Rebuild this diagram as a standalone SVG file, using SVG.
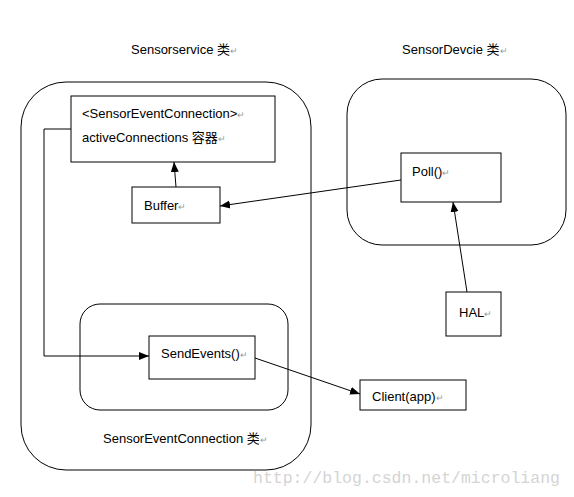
<svg xmlns="http://www.w3.org/2000/svg" width="574" height="497" viewBox="0 0 574 497">
<style>
text{font-family:"Liberation Sans","Noto Sans CJK SC",sans-serif;font-size:13px;fill:#000}
.r{fill:#999;font-size:9px}
.box{fill:#fff;stroke:#000;stroke-width:1}
.grp{fill:#fff;stroke:#000;stroke-width:1}
.c{fill:none;stroke:#000;stroke-width:1}
.wm{font-family:"Liberation Mono",monospace;font-size:16.5px;fill:#d4d4d4}
</style>
<defs>
<marker id="ah" viewBox="0 0 10 10" refX="10" refY="5" markerWidth="10" markerHeight="10" markerUnits="userSpaceOnUse" orient="auto">
<path d="M0,1 L10,5 L0,9 z" fill="#000"/>
</marker>
</defs>
<rect width="574" height="497" fill="#fff"/>
<g id="sensorservice">
<rect class="grp" x="21" y="82" width="290" height="388" rx="45" ry="45"/>
<text x="131" y="54">Sensorservice 类<tspan class="r">↵</tspan></text>
</g>
<g id="sensordevice">
<rect class="grp" x="347" y="79" width="219" height="166" rx="35" ry="35"/>
<text x="402" y="54">SensorDevcie 类<tspan class="r">↵</tspan></text>
</g>
<g id="sensoreventconnection">
<rect class="grp" x="80" y="304" width="208" height="106" rx="20" ry="20"/>
<text x="103" y="443">SensorEventConnection 类<tspan class="r">↵</tspan></text>
</g>
<g id="activeconnections">
<rect class="box" x="71" y="96" width="204" height="66"/>
<text x="82" y="118">&lt;SensorEventConnection&gt;<tspan class="r">↵</tspan></text>
<text x="82" y="142">activeConnections 容器<tspan class="r">↵</tspan></text>
</g>
<g id="buffer">
<rect class="box" x="132" y="187" width="88" height="36"/>
<text x="144" y="210">Buffer<tspan class="r">↵</tspan></text>
</g>
<g id="poll">
<rect class="box" x="401" y="153" width="100" height="49"/>
<text x="412" y="176">Poll()<tspan class="r">↵</tspan></text>
</g>
<g id="hal">
<rect class="box" x="446" y="292" width="55" height="44"/>
<text x="459" y="317">HAL<tspan class="r">↵</tspan></text>
</g>
<g id="sendevents">
<rect class="box" x="149" y="336" width="106" height="43"/>
<text x="161" y="358">SendEvents()<tspan class="r">↵</tspan></text>
</g>
<g id="client">
<rect class="box" x="360" y="380" width="106" height="30"/>
<text x="372" y="401">Client(app)<tspan class="r">↵</tspan></text>
</g>
<g id="connectors">
<line class="c" x1="176" y1="187" x2="174" y2="162" marker-end="url(#ah)"/>
<line class="c" x1="401" y1="180" x2="220" y2="206" marker-end="url(#ah)"/>
<line class="c" x1="467" y1="292" x2="453" y2="202" marker-end="url(#ah)"/>
<polyline class="c" points="71,129 44,129 44,356 149,356" marker-end="url(#ah)"/>
<line class="c" x1="255" y1="358" x2="360" y2="394" marker-end="url(#ah)"/>
</g>
<text class="wm" x="253" y="483">http://blog.csdn.net/microliang</text>
</svg>
